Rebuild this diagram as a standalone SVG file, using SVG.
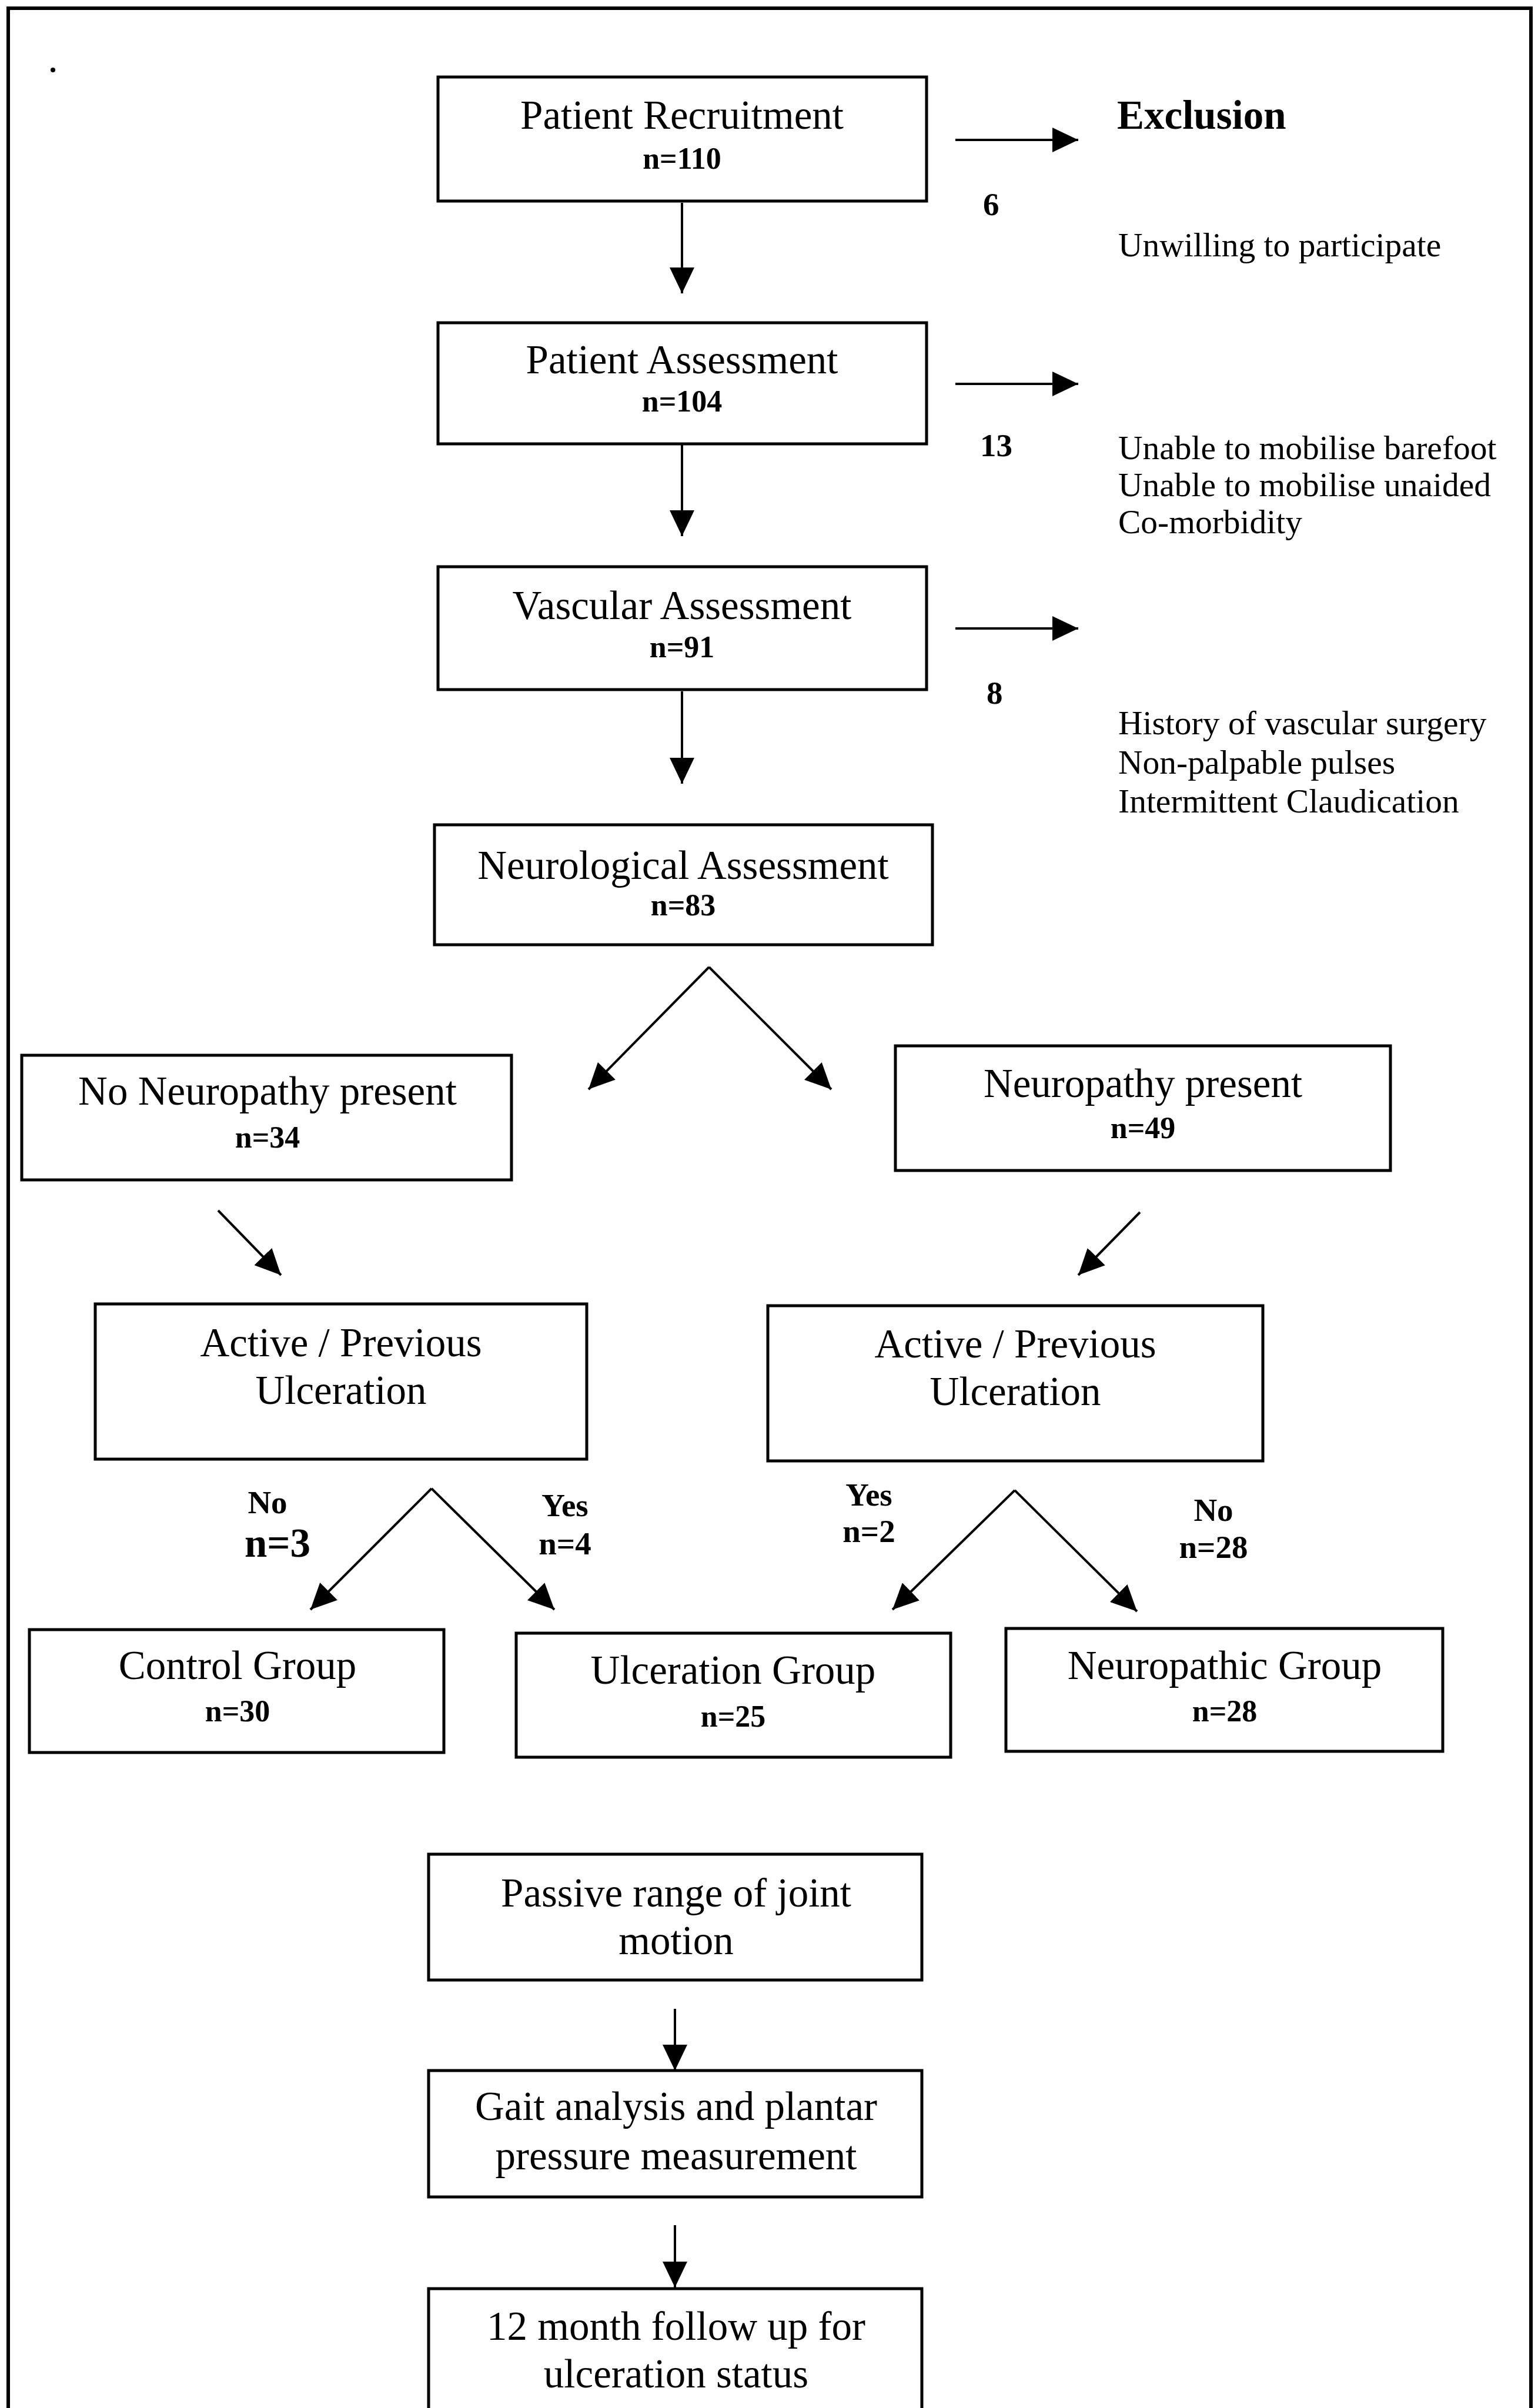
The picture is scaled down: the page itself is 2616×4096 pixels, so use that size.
<svg xmlns="http://www.w3.org/2000/svg" width="2616" height="4096" viewBox="0 0 2616 4096">
<style>
.box{fill:#fff;stroke:#000;stroke-width:5}
.frame{fill:none;stroke:#000;stroke-width:6}
.c{stroke:#000;stroke-width:4;fill:none;marker-end:url(#ah)}
text{font-family:"Liberation Serif","Times New Roman",serif;fill:#000}
.t{font-size:69px;text-anchor:middle}
.n{font-size:52px;font-weight:bold;text-anchor:middle}
.nb{font-size:69px;font-weight:bold;text-anchor:middle}
.lb{font-size:55px;font-weight:bold;text-anchor:middle}
.r{font-size:57.5px}
.cnt{font-size:55px;font-weight:bold}
.h{font-size:69px;font-weight:bold}
</style>
<defs>
<marker id="ah" markerUnits="userSpaceOnUse" markerWidth="44" markerHeight="42" refX="44" refY="21" orient="auto">
<path d="M0,0 L44,21 L0,42 Z" fill="#000"/>
</marker>
</defs>
<rect width="2616" height="4096" fill="#fff"/>
<path class="frame" d="M14,4100 L14,14 L2604,14 L2604,4100"/>
<circle cx="90" cy="119" r="4" fill="#000"/>
<circle cx="1182" cy="575" r="2.5" fill="#000"/>

<g id="connectors">
<line class="c" x1="1625" y1="238" x2="1834" y2="238"/>
<line class="c" x1="1625" y1="653" x2="1834" y2="653"/>
<line class="c" x1="1625" y1="1069" x2="1834" y2="1069"/>
<line class="c" x1="1160" y1="345" x2="1160" y2="499"/>
<line class="c" x1="1160" y1="755" x2="1160" y2="912"/>
<line class="c" x1="1160" y1="1176" x2="1160" y2="1333"/>
<polyline class="c" points="1206,1645 1001,1853"/>
<line class="c" x1="1206" y1="1645" x2="1414" y2="1853"/>
<line class="c" x1="371" y1="2059" x2="478" y2="2169"/>
<line class="c" x1="1939" y1="2062" x2="1834" y2="2169"/>
<line class="c" x1="734" y1="2532" x2="528" y2="2738"/>
<line class="c" x1="734" y1="2532" x2="943" y2="2738"/>
<line class="c" x1="1726" y1="2535" x2="1518" y2="2738"/>
<line class="c" x1="1726" y1="2535" x2="1934" y2="2741"/>
<line class="c" x1="1148" y1="3417" x2="1148" y2="3522"/>
<line class="c" x1="1148" y1="3785" x2="1148" y2="3891"/>
</g>

<g id="patient-recruitment">
<rect class="box" x="745" y="131" width="831" height="211"/>
<text class="t" x="1160" y="219">Patient Recruitment</text>
<text class="n" x="1160" y="287">n=110</text>
</g>
<g id="patient-assessment">
<rect class="box" x="745" y="549" width="831" height="206"/>
<text class="t" x="1160" y="635">Patient Assessment</text>
<text class="n" x="1160" y="700">n=104</text>
</g>
<g id="vascular-assessment">
<rect class="box" x="745" y="964" width="831" height="209"/>
<text class="t" x="1160" y="1053">Vascular Assessment</text>
<text class="n" x="1160" y="1118">n=91</text>
</g>
<g id="neurological-assessment">
<rect class="box" x="739" y="1403" width="847" height="204"/>
<text class="t" x="1162" y="1495">Neurological Assessment</text>
<text class="n" x="1162" y="1557">n=83</text>
</g>
<g id="exclusion">
<text class="h" x="1900" y="219">Exclusion</text>
</g>
<g id="exclusion-1">
<text class="cnt" x="1672" y="366">6</text>
<text class="r" x="1902" y="436">Unwilling to participate</text>
</g>
<g id="exclusion-2">
<text class="cnt" x="1667" y="776">13</text>
<text class="r" x="1902" y="781">Unable to mobilise barefoot</text>
<text class="r" x="1902" y="844">Unable to mobilise unaided</text>
<text class="r" x="1902" y="907">Co-morbidity</text>
</g>
<g id="exclusion-3">
<text class="cnt" x="1678" y="1197">8</text>
<text class="r" x="1902" y="1249">History of vascular surgery</text>
<text class="r" x="1902" y="1316">Non-palpable pulses</text>
<text class="r" x="1902" y="1382">Intermittent Claudication</text>
</g>
<g id="no-neuropathy">
<rect class="box" x="37" y="1795" width="833" height="212"/>
<text class="t" x="455" y="1879">No Neuropathy present</text>
<text class="n" x="455" y="1952">n=34</text>
</g>
<g id="neuropathy">
<rect class="box" x="1523" y="1779" width="842" height="212"/>
<text class="t" x="1944" y="1866">Neuropathy present</text>
<text class="n" x="1944" y="1936">n=49</text>
</g>
<g id="ulceration-left">
<rect class="box" x="162" y="2218" width="836" height="264"/>
<text class="t" x="580" y="2307">Active / Previous</text>
<text class="t" x="580" y="2388">Ulceration</text>
</g>
<g id="ulceration-right">
<rect class="box" x="1306" y="2221" width="842" height="264"/>
<text class="t" x="1727" y="2309">Active / Previous</text>
<text class="t" x="1727" y="2390">Ulceration</text>
</g>
<g id="branch-labels">
<text class="lb" x="455" y="2574">No</text>
<text class="nb" x="472" y="2648">n=3</text>
<text class="lb" x="961" y="2579">Yes</text>
<text class="lb" x="961" y="2644">n=4</text>
<text class="lb" x="1478" y="2561">Yes</text>
<text class="lb" x="1478" y="2623">n=2</text>
<text class="lb" x="2064" y="2587">No</text>
<text class="lb" x="2064" y="2650">n=28</text>
</g>
<g id="control-group">
<rect class="box" x="50" y="2772" width="705" height="209"/>
<text class="t" x="404" y="2856">Control Group</text>
<text class="n" x="404" y="2928">n=30</text>
</g>
<g id="ulceration-group">
<rect class="box" x="878" y="2778" width="739" height="211"/>
<text class="t" x="1247" y="2864">Ulceration Group</text>
<text class="n" x="1247" y="2937">n=25</text>
</g>
<g id="neuropathic-group">
<rect class="box" x="1711" y="2770" width="743" height="209"/>
<text class="t" x="2083" y="2856">Neuropathic Group</text>
<text class="n" x="2083" y="2928">n=28</text>
</g>
<g id="passive-rom">
<rect class="box" x="729" y="3154" width="839" height="214"/>
<text class="t" x="1150" y="3243">Passive range of joint</text>
<text class="t" x="1150" y="3324">motion</text>
</g>
<g id="gait-analysis">
<rect class="box" x="729" y="3522" width="839" height="215"/>
<text class="t" x="1150" y="3606">Gait analysis and plantar</text>
<text class="t" x="1150" y="3690">pressure measurement</text>
</g>
<g id="follow-up">
<rect class="box" x="729" y="3893" width="839" height="240"/>
<text class="t" x="1150" y="3980">12 month follow up for</text>
<text class="t" x="1150" y="4061">ulceration status</text>
</g>
</svg>
